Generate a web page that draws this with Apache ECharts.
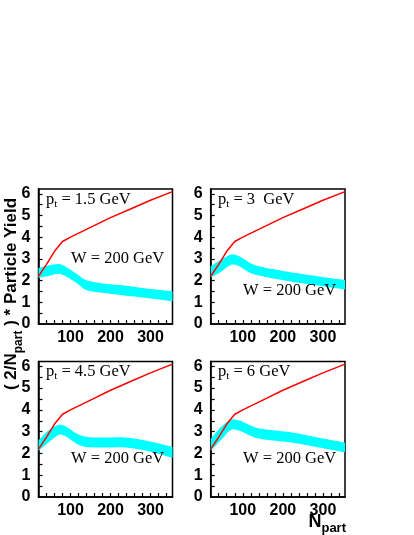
<!DOCTYPE html>
<html lang="en">
<head>
    <meta charset="UTF-8">
    <title>particle yield vs Npart</title>
    <style>
        html, body { margin: 0; padding: 0; background: #fff; }
        #chart { width: 414px; height: 535px; }
    </style>
</head>
<body>
<div id="chart"></div>
<script src="https://cdn.jsdelivr.net/npm/echarts/dist/echarts.min.js"></script>
<script>
    // red curve, the same in all four panels
    var redN = [20, 40, 60, 80, 100, 150, 200, 250, 300, 355];
    var redY = [2.2, 2.75, 3.35, 3.8, 4.0, 4.45, 4.9, 5.3, 5.7, 6.1];

    // cyan band (lower / upper edge) read at these Npart values
    var bandN = [20, 45, 70, 90, 115, 140, 180, 230, 290, 355];
    var low15 = [2.12, 2.21, 2.31, 2.18, 1.89, 1.56, 1.44, 1.33, 1.20, 1.05];
    var up15  = [2.58, 2.69, 2.76, 2.62, 2.32, 2.01, 1.87, 1.78, 1.63, 1.50];
    var low3  = [2.15, 2.40, 2.72, 2.67, 2.38, 2.23, 2.08, 1.92, 1.76, 1.59];
    var up3   = [2.66, 2.95, 3.19, 3.13, 2.85, 2.66, 2.51, 2.35, 2.19, 2.03];
    var low45 = [2.12, 2.50, 2.85, 2.77, 2.45, 2.30, 2.27, 2.28, 2.12, 1.80];
    var up45  = [2.60, 3.05, 3.31, 3.23, 2.92, 2.77, 2.73, 2.74, 2.58, 2.30];
    var low6  = [2.12, 2.60, 3.08, 3.05, 2.85, 2.68, 2.58, 2.48, 2.27, 2.05];
    var up6   = [2.66, 3.20, 3.55, 3.52, 3.32, 3.14, 3.05, 2.94, 2.72, 2.50];

    var ptLabels = ["1.5", "3 ", "4.5", "6"];
    var energyLabel = "W = 200 GeV";

    var xLabels = [100, 200, 300];
    var xTicks = [40, 60, 80, 100, 120, 140, 160, 180, 200, 220, 240, 260, 280, 300, 320, 340];
    var yLabels = [0, 1, 2, 3, 4, 5, 6];
    var yTicks = [0.5, 1, 1.5, 2, 2.5, 3, 3.5, 4, 4.5, 5, 5.5, 6];

    var lows = [low15, low3, low45, low6];
    var ups = [up15, up3, up45, up6];

    // panel frames and text spots (pixels)
    var panels = [
        {left: 38.5, top: 189, width: 134, height: 135, ptX: 46, ptY: 191.3, wX: 71, wY: 259},
        {left: 210.7, top: 189, width: 134.3, height: 135, ptX: 218, ptY: 191.3, wX: 243, wY: 291},
        {left: 38.5, top: 361.5, width: 134, height: 135.5, ptX: 46, ptY: 363.5, wX: 71, wY: 458.5},
        {left: 210.7, top: 361.5, width: 134.3, height: 135.5, ptX: 218, ptY: 363.5, wX: 243, wY: 458.5}
    ];

    function zip(a, b) {
        var out = [];
        for (var i = 0; i < a.length; i++) out.push([a[i], b[i]]);
        return out;
    }

    // catmull-rom through pixel points, as svg "C" segments
    function curve(pts) {
        var d = "";
        for (var i = 0; i < pts.length - 1; i++) {
            var p0 = pts[i - 1] || pts[i], p1 = pts[i], p2 = pts[i + 1], p3 = pts[i + 2] || p2;
            var c1x = p1[0] + (p2[0] - p0[0]) / 6, c1y = p1[1] + (p2[1] - p0[1]) / 6;
            var c2x = p2[0] - (p3[0] - p1[0]) / 6, c2y = p2[1] - (p3[1] - p1[1]) / 6;
            d += " C" + c1x + " " + c1y + " " + c2x + " " + c2y + " " + p2[0] + " " + p2[1];
        }
        return d;
    }

    function bandRenderer(low, up) {
        return function (params, api) {
            if (params.dataIndex !== 0) return null;
            var top = [], bot = [];
            for (var k = 0; k < bandN.length; k++) {
                top.push(api.coord([bandN[k], up[k]]));
                bot.push(api.coord([bandN[k], low[k]]));
            }
            bot.reverse();
            var d = "M" + top[0][0] + " " + top[0][1] + curve(top) +
                " L" + bot[0][0] + " " + bot[0][1] + curve(bot) + " Z";
            return {type: "path", shape: {pathData: d}, style: {fill: "#00ffff"}};
        };
    }

    var labelFont = {color: "#000", fontFamily: "Liberation Sans", fontWeight: "bold", fontSize: 16};
    var serif = "Liberation Serif";

    var grids = [], xAxes = [], yAxes = [], series = [], graphics = [];

    for (var i = 0; i < panels.length; i++) {
        var p = panels[i];
        grids.push({
            left: p.left, top: p.top, width: p.width, height: p.height,
            show: true, borderColor: "#000", borderWidth: 1.5, backgroundColor: "transparent"
        });
        xAxes.push({
            gridIndex: i, type: "value", min: 20, max: 355,
            axisLine: {show: true, lineStyle: {color: "#000", width: 1.5}},
            axisTick: {show: true, inside: true, length: 4, customValues: xTicks, lineStyle: {color: "#000", width: 1.2}},
            axisLabel: Object.assign({customValues: xLabels, margin: 6}, labelFont),
            splitLine: {show: false}
        });
        yAxes.push({
            gridIndex: i, type: "value", min: 0, max: 6.22,
            axisLine: {show: true, lineStyle: {color: "#000", width: 1.5}},
            axisTick: {show: true, inside: true, length: 4, customValues: yTicks, lineStyle: {color: "#000", width: 1.2}},
            axisLabel: Object.assign({customValues: yLabels, margin: 8}, labelFont),
            splitLine: {show: false}
        });

        series.push({
            type: "custom", xAxisIndex: i, yAxisIndex: i, clip: true,
            data: zip(bandN, lows[i]), encode: {x: 0, y: 1},
            renderItem: bandRenderer(lows[i], ups[i]), z: 2
        });
        series.push({
            type: "line", xAxisIndex: i, yAxisIndex: i,
            data: zip(redN, redY), symbol: "none",
            lineStyle: {color: "#ff0000", width: 1.5}, z: 3
        });

        graphics.push({
            type: "text", x: p.ptX, y: p.ptY, z: 10,
            style: {
                text: "{m|p}{s|t}{m| = " + ptLabels[i] + " GeV}",
                fill: "#000", align: "left", verticalAlign: "top",
                rich: {
                    m: {fontFamily: serif, fontSize: 16.5, lineHeight: 16, verticalAlign: "top"},
                    s: {fontFamily: serif, fontSize: 11, lineHeight: 18, verticalAlign: "bottom"}
                }
            }
        });
        graphics.push({
            type: "text", x: p.wX, y: p.wY, z: 10,
            style: {
                text: energyLabel, fill: "#000", align: "left", verticalAlign: "middle",
                fontFamily: serif, fontSize: 16.5
            }
        });
    }

    // y title, rotated
    graphics.push({
        type: "text", x: 14, y: 294, rotation: Math.PI / 2, z: 10,
        style: {
            text: "{m|( 2/N}{s|part}{m| ) * Particle Yield}",
            fill: "#000", align: "center", verticalAlign: "middle",
            rich: {
                m: {fontFamily: "Liberation Sans", fontWeight: "bold", fontSize: 17, lineHeight: 17, verticalAlign: "top"},
                s: {fontFamily: "Liberation Sans", fontWeight: "bold", fontSize: 12, lineHeight: 22, verticalAlign: "bottom"}
            }
        }
    });
    // x title
    graphics.push({
        type: "text", x: 346, y: 512.7, z: 10,
        style: {
            text: "{n|N}{s|part}",
            fill: "#000", align: "right", verticalAlign: "top",
            rich: {
                n: {fontFamily: "Liberation Sans", fontWeight: "bold", fontSize: 18, lineHeight: 18, verticalAlign: "top"},
                s: {fontFamily: "Liberation Sans", fontWeight: "bold", fontSize: 13, lineHeight: 22.3, verticalAlign: "bottom"}
            }
        }
    });

    var chart = echarts.init(document.getElementById("chart"), null, {renderer: "canvas"});
    chart.setOption({
        animation: false,
        backgroundColor: "#fff",
        grid: grids,
        xAxis: xAxes,
        yAxis: yAxes,
        series: series,
        graphic: graphics
    });
</script>
</body>
</html>
